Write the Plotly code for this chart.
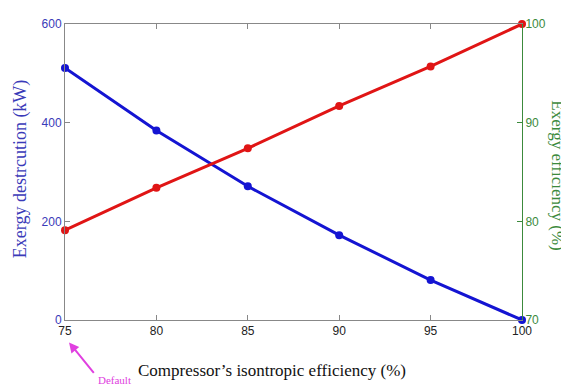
import plotly.graph_objects as go

efficiency = [75, 80, 85, 90, 95, 100]
exergy_destruction = [511, 384, 271, 172, 81, 0]
exergy_efficiency = [79.1, 83.4, 87.4, 91.7, 95.7, 100]

x_ticks = [75, 80, 85, 90, 95, 100]
y1_ticks = [0, 200, 400, 600]
y2_ticks = [70, 80, 90, 100]

BLUE = "#1414d2"
RED = "#e01515"
LBLUE = "#3a3ab8"
GREEN = "#3c8a3c"
MAGENTA = "#e040e0"

fig = go.Figure()
fig.add_trace(go.Scatter(x=efficiency, y=exergy_destruction, mode="lines+markers",
                         line=dict(color=BLUE, width=3), marker=dict(color=BLUE, size=8),
                         cliponaxis=False, showlegend=False))
fig.add_trace(go.Scatter(x=efficiency, y=exergy_efficiency, mode="lines+markers",
                         line=dict(color=RED, width=3), marker=dict(color=RED, size=8),
                         cliponaxis=False, showlegend=False, yaxis="y2"))

# page body has an 8px margin; figure is sized so it ends at the window edge
fig.update_layout(
    width=561, height=377,
    margin=dict(l=57, r=47, t=9, b=65),
    paper_bgcolor="white", plot_bgcolor="white",
    font=dict(family="Liberation Sans, Arial, sans-serif", size=12, color="#222"),
    xaxis=dict(range=[75, 100], tickvals=x_ticks, ticks="inside", ticklen=5,
               tickcolor="#888", showline=True, linecolor="#888", linewidth=1,
               mirror="ticks", showgrid=False, zeroline=False,
               tickfont=dict(size=12, color="#222")),
    yaxis=dict(range=[0, 600], tickvals=y1_ticks, ticks="inside", ticklen=5,
               tickcolor="#888", showline=True, linecolor="#888", linewidth=1,
               showgrid=False, zeroline=False, tickfont=dict(size=12, color=LBLUE)),
    yaxis2=dict(range=[70, 100], tickvals=y2_ticks, ticks="inside", ticklen=5,
                tickcolor=GREEN, showline=True, linecolor=GREEN, linewidth=1,
                overlaying="y", side="right", showgrid=False, zeroline=False,
                tickfont=dict(size=12, color=GREEN)),
    annotations=[
        dict(text="Exergy destrcution (kW)", xref="paper", yref="paper",
             x=-0.098, y=0.51, xanchor="center", yanchor="middle", textangle=-90,
             showarrow=False, font=dict(family="Liberation Serif, serif", size=18, color=LBLUE)),
        dict(text="Exergy efficiency (%)", xref="paper", yref="paper",
             x=1.077, y=0.488, xanchor="center", yanchor="middle", textangle=90,
             showarrow=False, font=dict(family="Liberation Serif, serif", size=17, color=GREEN)),
        dict(text="Compressor\u2019s isontropic efficiency (%)", xref="paper", yref="paper",
             x=0.453, y=-0.172, xanchor="center", yanchor="middle",
             showarrow=False, font=dict(family="Liberation Serif, serif", size=17, color="#111")),
        dict(text="Default", xref="paper", yref="paper",
             x=0.109, y=-0.203, xanchor="center", yanchor="middle",
             showarrow=False,
             font=dict(family="Liberation Serif, serif", size=11, color=MAGENTA)),
        dict(text="", xref="paper", yref="paper", x=0.0088, y=-0.0759,
             showarrow=True, ax=26, ay=32, arrowhead=2, arrowsize=1, arrowwidth=2,
             arrowcolor=MAGENTA, standoff=0),
    ],
)

fig.write_html("out.html")
